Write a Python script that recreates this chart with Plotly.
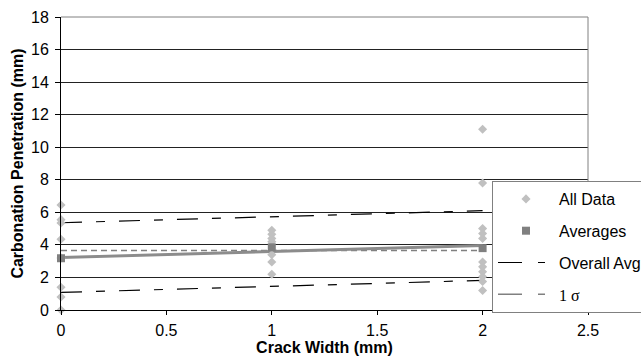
import plotly.graph_objects as go

# Carbonation penetration measured at each crack width (mm)
widths = [0, 1, 2]
pen_w0 = [6.45, 5.55, 5.35, 4.35, 3.2, 1.4, 0.8, 0.0]
pen_w1 = [4.9, 4.65, 4.4, 4.2, 3.4, 2.95, 2.2]
pen_w2 = [11.1, 7.8, 5.0, 4.7, 4.4, 2.95, 2.65, 2.35, 2.05, 1.75, 1.2]

# Mean penetration per crack width
averages = [3.18, 3.85, 3.8]

# Linear trend of the averages, evaluated at the end widths, and its ±1σ band
trend_x = [0, 2]
trend_y = [3.22, 3.96]
sigma = 2.14
overall_avg = 3.65

x_ticks = [0, 0.5, 1, 1.5, 2, 2.5]
y_ticks = list(range(0, 19, 2))

FONT = "Arial, Liberation Sans, sans-serif"
SERIF = "Times New Roman, Liberation Serif, serif"
BAND_DASH = "21px,14px,9px,14px"

all_x = [widths[0]] * len(pen_w0) + [widths[1]] * len(pen_w1) + [widths[2]] * len(pen_w2)
all_y = pen_w0 + pen_w1 + pen_w2

upper = [v + sigma for v in trend_y]
lower = [v - sigma for v in trend_y]

fig = go.Figure()

# ±1σ band lines
fig.add_trace(go.Scatter(
    x=trend_x + [None] + trend_x, y=upper + [None] + lower,
    mode="lines", line=dict(color="#000000", width=1.2, dash=BAND_DASH),
    showlegend=False, hoverinfo="skip", cliponaxis=False,
))
# overall average
fig.add_trace(go.Scatter(
    x=[widths[0], widths[-1]], y=[overall_avg, overall_avg],
    mode="lines", line=dict(color="#808080", width=1.5, dash="6px,4px"),
    showlegend=False, hoverinfo="skip",
))
# trend of averages
fig.add_trace(go.Scatter(
    x=trend_x, y=trend_y, mode="lines",
    line=dict(color="#8c8c8c", width=3),
    showlegend=False, hoverinfo="skip",
))
# all measurements
fig.add_trace(go.Scatter(
    x=all_x, y=all_y, mode="markers", name="All Data", legendgroup="a",
    marker=dict(symbol="diamond", size=7, color="#c0c0c0"),
    cliponaxis=False,
))
# averages
fig.add_trace(go.Scatter(
    x=widths, y=averages, mode="markers", name="Averages", legendgroup="b",
    marker=dict(symbol="square", size=8, color="#808080"),
    cliponaxis=False,
))
# legend keys for the line styles
fig.add_trace(go.Scatter(
    x=[None], y=[None], mode="lines", name="Overall Avg", legendgroup="c",
    line=dict(color="#000000", width=1.2, dash="24px,16px,7px,16px"),
))
fig.add_trace(go.Scatter(
    x=[None], y=[None], mode="lines", legendgroup="d",
    name=f"<span style='font-family:{SERIF}'>1 σ</span>",
    line=dict(color="#808080", width=1.5, dash="24px,16px,7px,16px"),
))

fig.update_layout(
    width=641, height=362,
    margin=dict(l=61, r=53, t=17, b=52, autoexpand=False),
    paper_bgcolor="white", plot_bgcolor="white",
    font=dict(family=FONT, size=16, color="#000000"),
    showlegend=True,
    legend=dict(
        x=(492 - 61) / 527, y=(310 - 181) / 293, xanchor="left", yanchor="top",
        bgcolor="white", bordercolor="#808080", borderwidth=1,
        font=dict(family=FONT, size=16, color="#000000"),
        tracegroupgap=8, itemwidth=56, traceorder="grouped",
    ),
    xaxis=dict(
        range=[0, 2.5], tickvals=x_ticks, ticktext=[str(v) for v in x_ticks],
        showgrid=False, zeroline=False,
        showline=True, linecolor="#000000", linewidth=1,
        ticks="outside", ticklen=4, tickcolor="#000000",
        tickfont=dict(size=16), ticklabelstandoff=2,
        title=dict(text="<b>Crack Width (mm)</b>", font=dict(size=16), standoff=3),
    ),
    yaxis=dict(
        range=[0, 18], tickvals=y_ticks,
        showgrid=True, gridcolor="#222222", gridwidth=1, zeroline=False,
        showline=True, linecolor="#000000", linewidth=1,
        ticks="outside", ticklen=5, tickcolor="#000000",
        tickfont=dict(size=16), ticklabelstandoff=3,
        title=dict(text="<b>Carbonation Penetration (mm)</b>", font=dict(size=16), standoff=3),
    ),
    shapes=[
        dict(type="line", xref="paper", yref="paper", x0=0, x1=1, y0=1, y1=1,
             line=dict(color="#808080", width=1), layer="above"),
        dict(type="line", xref="paper", yref="paper", x0=1, x1=1, y0=0, y1=1,
             line=dict(color="#808080", width=1), layer="above"),
    ],
)

fig.write_html("out.html")
